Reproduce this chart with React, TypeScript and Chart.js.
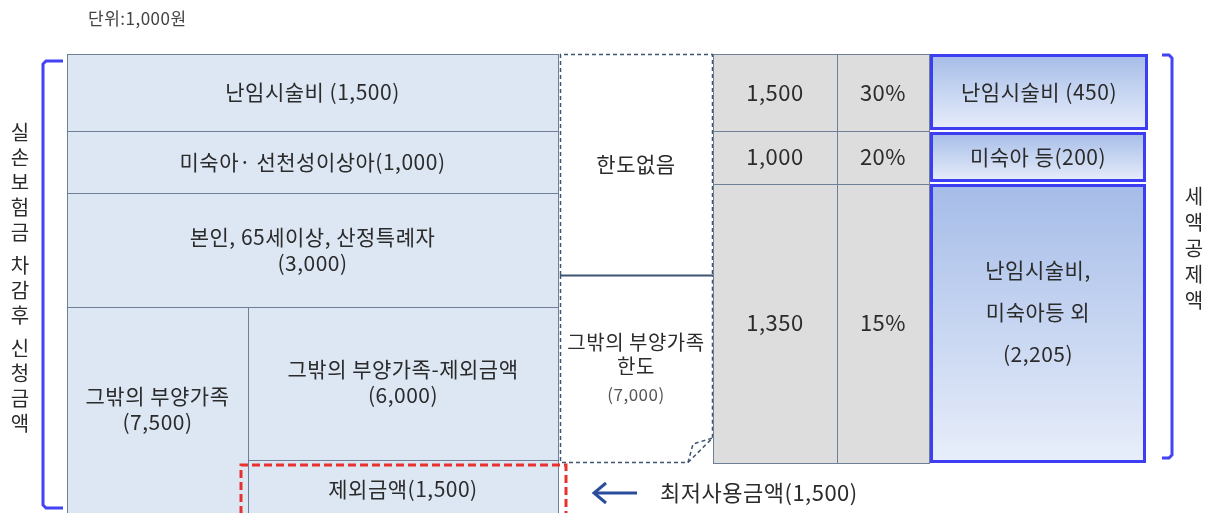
import React, { useEffect, useRef } from 'react';
import { Chart, registerables } from 'chart.js';

Chart.register(...registerables);

// ---------- data ----------
const unitLabel = '단위:1,000원';
const leftAxisTitle = '실손보험금 차감후 신청금액';
const rightAxisTitle = '세액공제액';

const claimNames = ['난임시술비 ', '미숙아· 선천성이상아', '본인, 65세이상, 산정특례자\n', '그밖의 부양가족\n', '그밖의 부양가족-제외금액\n', '제외금액'];
const claimAmounts = [1500, 1000, 3000, 7500, 6000, 1500];

const limitNames = ['한도없음', '그밖의 부양가족\n한도'];
const limitAmounts = [null, 7000];

const baseAmounts = [1500, 1000, 1350];
const creditRates = [30, 20, 15];

const creditNames = ['난임시술비 ', '미숙아 등', '난임시술비,\n미숙아등 외\n'];
const creditAmounts = [450, 200, 2205];

const minSpendLabel = '최저사용금액';
const minSpendAmount = 1500;

// ---------- layout (diagram units) ----------
const FRAME_W = 1219;
const FRAME_H = 513;
const claimBoxes = [
  [67, 54, 558, 131],
  [67, 131, 558, 193],
  [67, 193, 558, 307],
  [67, 307, 248, 514],
  [248, 307, 558, 460],
  [248, 460, 558, 514],
];
const limitBoxes = [
  [559, 54, 713, 275],
  [559, 275, 713, 463],
];
const rowBands = [
  [54, 131],
  [131, 184],
  [184, 463],
];
const baseCol = [713, 837];
const rateCol = [837, 929];
const creditCol = [930, 1147];

const FONT = '"Noto Sans CJK KR", "Noto Sans", sans-serif';
const TXT = '#2b2b2b';
const fmt = (v: number) => v.toLocaleString('en-US');

const diagramPlugin = {
  id: 'diagram',
  afterDraw(chart: any) {
    const ctx: any = chart.ctx;
    const xs = chart.scales.x;
    const ys = chart.scales.y;
    const X = (v: number) => xs.getPixelForValue(v);
    const Y = (v: number) => ys.getPixelForValue(v);

    const rect = (b: number[], fill: any, stroke: string | null, lw = 1, dash: number[] = []) => {
      const x0 = X(b[0]), y0 = Y(b[1]), x1 = X(b[2]), y1 = Y(b[3]);
      if (fill) {
        ctx.fillStyle = fill;
        ctx.fillRect(x0, y0, x1 - x0, y1 - y0);
      }
      if (stroke) {
        ctx.save();
        ctx.strokeStyle = stroke;
        ctx.lineWidth = lw;
        ctx.setLineDash(dash);
        ctx.strokeRect(x0 + 0.5, y0 + 0.5, x1 - x0, y1 - y0);
        ctx.restore();
      }
    };
    const text = (s: string, cx: number, cy: number, size = 21, lh = 26, color = TXT, align = 'center') => {
      ctx.save();
      ctx.font = `${size}px ${FONT}`;
      ctx.letterSpacing = '0.5px';
      ctx.fillStyle = color;
      ctx.textAlign = align;
      ctx.textBaseline = 'middle';
      const lines = s.split('\n');
      const start = cy - ((lines.length - 1) * lh) / 2;
      lines.forEach((ln, i) => ctx.fillText(ln, X(cx), Y(start + i * lh)));
      ctx.restore();
    };
    const line = (pts: number[][], color: string, lw: number, dash: number[] = []) => {
      ctx.save();
      ctx.strokeStyle = color;
      ctx.lineWidth = lw;
      ctx.setLineDash(dash);
      ctx.beginPath();
      pts.forEach((p, i) => (i ? ctx.lineTo(X(p[0]), Y(p[1])) : ctx.moveTo(X(p[0]), Y(p[1]))));
      ctx.stroke();
      ctx.restore();
    };

    // unit label
    text(unitLabel, 88, 19, 17, 20, '#444', 'left');

    // claim boxes
    claimBoxes.forEach((b, i) => {
      rect(b, '#dde7f4', '#6f7f95', 1);
      const label = claimNames[i] + '(' + fmt(claimAmounts[i]) + ')';
      const cy = i === 3 ? 409 : i === 5 ? 489 : i === 4 ? 382 : (b[1] + b[3]) / 2;
      text(label, (b[0] + b[2]) / 2, cy);
    });

    // limit boxes (dashed)
    const dashC = '#3f5470';
    const g = limitBoxes[0];
    ctx.fillStyle = '#fff';
    ctx.fillRect(X(g[0]) + 1, Y(g[1]), X(g[2]) - X(g[0]) - 1, Y(limitBoxes[1][3]) - Y(g[1]));
    line([[g[0] + 1.5, g[3]], [g[0] + 1.5, g[1] + 0.5], [g[2] - 0.5, g[1] + 0.5], [g[2] - 0.5, g[3]]], dashC, 1.5, [4, 3]);
    line([[g[0] + 1, g[3] + 0.5], [g[2], g[3] + 0.5]], dashC, 2);
    text(limitNames[0], (g[0] + g[2]) / 2, 164);
    const h = limitBoxes[1];
    line([[h[0] + 1.5, h[1]], [h[0] + 1.5, h[3] - 0.5], [688, h[3] - 0.5], [h[2] - 0.5, 438], [h[2] - 0.5, h[1]]], dashC, 1.5, [4, 3]);
    line([[688, h[3] - 0.5], [693, 444], [h[2] - 0.5, 438]], dashC, 1.5, [4, 3]);
    text(limitNames[1], (h[0] + h[2]) / 2, 354, 20, 24);
    text('(' + fmt(limitAmounts[1] as number) + ')', (h[0] + h[2]) / 2, 395, 17, 20, '#555');

    // base amounts and rates
    rowBands.forEach((r, i) => {
      rect([baseCol[0], r[0], baseCol[1], r[1]], '#dddddd', '#6f7f95', 1);
      rect([rateCol[0], r[0], rateCol[1], r[1]], '#dddddd', '#6f7f95', 1);
      const cy = i === 2 ? 323 : i === 1 ? 157 : (r[0] + r[1]) / 2;
      text(fmt(baseAmounts[i]), (baseCol[0] + baseCol[1]) / 2, cy, 22);
      text(creditRates[i] + '%', (rateCol[0] + rateCol[1]) / 2, cy, 22);
    });

    // credit boxes (gradient, thick blue border)
    const creditRows = [
      [54, 130, 1148],
      [132, 182, 1146],
      [184, 463, 1146],
    ];
    creditRows.forEach((r, i) => {
      const x0 = creditCol[0], x1 = r[2];
      const grd = ctx.createLinearGradient(0, Y(r[0]), 0, Y(r[1]));
      grd.addColorStop(0, '#a5bce8');
      grd.addColorStop(1, '#e8eefa');
      rect([x0, r[0], x1, r[1]], grd, null);
      ctx.save();
      ctx.strokeStyle = '#3d3df2';
      ctx.lineWidth = 3;
      ctx.strokeRect(X(x0) + 1.5, Y(r[0]) + 1.5, X(x1) - X(x0) - 3, Y(r[1]) - Y(r[0]) - 3);
      ctx.restore();
      const label = creditNames[i] + '(' + fmt(creditAmounts[i]) + ')';
      const cy = i === 2 ? 312 : (r[0] + r[1]) / 2;
      text(label, (x0 + x1) / 2, cy, 21, i === 2 ? 42 : 26);
    });

    // red dashed frame for excluded amount
    line([[241, 514], [241, 465], [566, 465], [566, 514]], '#e8322e', 3, [8, 4]);

    // brackets
    const bl = '#4343f5';
    line([[63, 61], [46, 61], [43, 64], [43, 505], [46, 508], [63, 508]], bl, 3);
    line([[1162, 55], [1169, 55], [1172, 58], [1172, 455], [1169, 458], [1162, 458]], bl, 3);

    // vertical titles
    ctx.save();
    ctx.font = `20px ${FONT}`;
    ctx.fillStyle = TXT;
    ctx.textAlign = 'center';
    ctx.textBaseline = 'middle';
    let yy = 132;
    for (const ch of leftAxisTitle) {
      if (ch === ' ') { yy += 8; continue; }
      ctx.fillText(ch, X(20), Y(yy));
      yy += 25;
    }
    yy = 196;
    for (const ch of rightAxisTitle) {
      ctx.fillText(ch, X(1194), Y(yy));
      yy += 26;
    }
    ctx.restore();

    // arrow + label
    line([[637, 493], [594, 493]], '#2a4d9b', 3);
    line([[606, 483], [594, 493], [606, 503]], '#2a4d9b', 3);
    text(minSpendLabel + '(' + fmt(minSpendAmount) + ')', 660, 493, 22, 26, TXT, 'left');
  },
};

export default function App() {
  const ref = useRef<HTMLCanvasElement | null>(null);
  useEffect(() => {
    document.body.style.margin = '0';
    let chart: Chart | null = null;
    let dead = false;
    const make = () => {
      if (dead || !ref.current) return;
      chart = new Chart(ref.current, {
        type: 'scatter',
        data: { datasets: [{ data: [], pointRadius: 0 }] },
        options: {
          responsive: false,
          animation: false,
          layout: { padding: 0 },
          plugins: { legend: { display: false }, tooltip: { enabled: false } },
          scales: {
            x: { type: 'linear', min: 0, max: FRAME_W, display: false },
            y: { type: 'linear', min: 0, max: FRAME_H, reverse: true, display: false },
          },
        },
        plugins: [diagramPlugin],
      });
    };
    (document as any).fonts
      ? (document as any).fonts.load(`20px "Noto Sans CJK KR"`, '한').then(make, make)
      : make();
    return () => {
      dead = true;
      if (chart) chart.destroy();
    };
  }, []);
  return (
    <div style={{ width: FRAME_W, height: FRAME_H, background: '#fff' }}>
      <canvas ref={ref} width={FRAME_W} height={FRAME_H} style={{ display: 'block' }} />
    </div>
  );
}
